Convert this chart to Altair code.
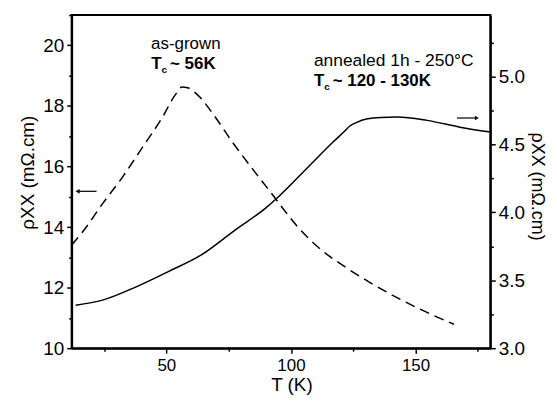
import altair as alt
import pandas as pd

# ---- data ----
T_grown = [12, 16.5, 24.5, 32.4, 40.4, 48.4, 53.7, 56.3, 58.5, 62.2, 69.8, 76.1, 84.1,
           92.1, 102.8, 110.8, 121.6, 131.9, 143.9, 154.6, 165.4]
rho_grown = [13.41, 13.85, 14.78, 15.65, 16.63, 17.62, 18.38, 18.62, 18.60, 18.39, 17.61,
             16.85, 15.97, 15.12, 14.00, 13.34, 12.69, 12.16, 11.61, 11.18, 10.79]

T_ann = [13.6, 24.4, 37.9, 51.0, 64.2, 77.7, 89.7, 94.9, 108.0, 117.0, 121.6, 123.5,
         126.0, 130.7, 136.0, 142.7, 154.6, 167.8, 180.0]
rho_ann = [3.317, 3.354, 3.452, 3.566, 3.689, 3.872, 4.030, 4.114, 4.355, 4.52, 4.60, 4.635,
           4.66, 4.69, 4.70, 4.703, 4.678, 4.628, 4.592]

x_ticks = [25, 50, 75, 100, 125, 150, 175]
yl_ticks = [10, 11, 12, 13, 14, 15, 16, 17, 18, 19, 20, 21]
yr_ticks = [3.0, 3.25, 3.5, 3.75, 4.0, 4.25, 4.5, 4.75, 5.0, 5.25]

X_DOMAIN = [12, 180]
YL_DOMAIN = [10, 21]
YR_DOMAIN = [3.0, 5.454]

# annotations (left-axis coordinates)
label_text = ["as-grown", "annealed 1h - 250°C"]
label_T = [57.8, 109.2]
label_v = [19.87, 19.31]

tc_rest = ["~ 56K", "~ 120 - 130K"]
tc_T = [43.9, 109.2]
tc_v = [19.21, 18.66]

arrow_T1 = [22.0, 166.6]
arrow_T2 = [14.4, 174.6]
arrow_v = [15.18, 17.6]
arrow_shape = ["triangle-left", "triangle-right"]

FONT = "Liberation Sans"

grown = pd.DataFrame({"T": T_grown, "rho": rho_grown})
ann = pd.DataFrame({"T": T_ann, "rho": rho_ann})
labels = pd.DataFrame({"text": label_text, "T": label_T, "v": label_v})
tcs = pd.DataFrame({"rest": tc_rest, "T": tc_T, "v": tc_v})
arrows = pd.DataFrame({"T1": arrow_T1, "T2": arrow_T2, "v": arrow_v, "shape": arrow_shape})

xs = alt.Scale(domain=X_DOMAIN, nice=False, zero=False)
yls = alt.Scale(domain=YL_DOMAIN, nice=False, zero=False)
yrs = alt.Scale(domain=YR_DOMAIN, nice=False, zero=False)

common_axis = dict(grid=False, domain=True, domainColor="black", domainWidth=2,
                   tickColor="black", tickWidth=1.5,
                   labelFont=FONT, labelColor="black",
                   titleFont=FONT, titleColor="black",
                   titleFontWeight="normal")

x_axis = alt.Axis(values=x_ticks, orient="bottom",
                  tickSize={"condition": {"test": "datum.value % 50 == 0", "value": 5}, "value": 3},
                  labelExpr="datum.value % 50 == 0 ? datum.label : ''",
                  labelFontSize=17, titleFontSize=19, titleX=221,
                  labelPadding=4, title="T (K)", titlePadding=3, **common_axis)
yl_axis = alt.Axis(values=yl_ticks, orient="left",
                   tickSize={"condition": {"test": "datum.value % 2 == 0", "value": 5}, "value": 3},
                   labelExpr="datum.value % 2 == 0 ? datum.label : ''",
                   labelFontSize=19, titleFontSize=19, titleY=158,
                   labelPadding=3, title="ρXX (mΩ.cm)", titlePadding=5, **common_axis)
yr_axis = alt.Axis(values=yr_ticks, orient="right", format=".1f",
                   tickSize={"condition": {"test": "(datum.value * 2) % 1 == 0", "value": 5}, "value": 3},
                   labelExpr="(datum.value * 2) % 1 == 0 ? datum.label : ''",
                   labelFontSize=19, titleFontSize=18, titleY=172,
                   labelPadding=3, title="ρXX (mΩ.cm)", titlePadding=3, titleAngle=90, **common_axis)


def X(field):
    return alt.X(field, scale=xs, axis=x_axis)


def YL(field):
    return alt.Y(field, scale=yls, axis=yl_axis)


dashed = alt.Chart(grown).mark_line(color="black", strokeWidth=1.5, strokeDash=[10, 6],
                                    interpolate="monotone").encode(
    x=X("T:Q"), y=YL("rho:Q"), order="T:Q")

txt_left = alt.Chart(labels.iloc[[0]]).mark_text(font=FONT, fontSize=17, color="black",
                                                  baseline="alphabetic", align="center").encode(
    x=X("T:Q"), y=YL("v:Q"), text="text:N")
txt_right = alt.Chart(labels.iloc[[1]]).mark_text(font=FONT, fontSize=17.5, color="black",
                                                   baseline="alphabetic", align="left").encode(
    x=X("T:Q"), y=YL("v:Q"), text="text:N")

tc_base = alt.Chart(tcs).encode(x=X("T:Q"), y=YL("v:Q"))
tc_T_mark = tc_base.mark_text(font=FONT, fontSize=17, fontWeight="bold", color="black",
                              baseline="alphabetic", align="left", text="T")
tc_c_mark = tc_base.mark_text(font=FONT, fontSize=10, fontWeight="bold", color="black",
                              baseline="alphabetic", align="left", text="c", dx=10.5, dy=4)
tc_rest_mark = tc_base.mark_text(font=FONT, fontSize=17, fontWeight="bold", color="black",
                                 baseline="alphabetic", align="left", dx=19).encode(text="rest:N")

arrow_line = alt.Chart(arrows).mark_rule(color="black", strokeWidth=1.2).encode(
    x=X("T1:Q"), x2="T2:Q", y=YL("v:Q"))
arrow_head = alt.Chart(arrows).mark_point(color="black", filled=True, opacity=1, size=22).encode(
    x=X("T2:Q"), y=YL("v:Q"), shape=alt.Shape("shape:N", scale=None))

left = alt.layer(dashed, txt_left, txt_right, tc_T_mark, tc_c_mark, tc_rest_mark,
                 arrow_line, arrow_head)

solid = alt.Chart(ann).mark_line(color="black", strokeWidth=1.5, interpolate="monotone").encode(
    x=X("T:Q"),
    y=alt.Y("rho:Q", scale=yrs, axis=yr_axis),
    order="T:Q",
)

chart = alt.layer(left, solid).resolve_scale(y="independent").properties(
    width=421, height=335,
    background="white",
    autosize=alt.AutoSizeParams(type="none"),
    padding={"left": 64, "top": 6, "right": 59, "bottom": 46},
).configure_view(stroke="black", strokeWidth=2)

chart.save("out.html", embed_options={"renderer": "svg", "actions": False})
